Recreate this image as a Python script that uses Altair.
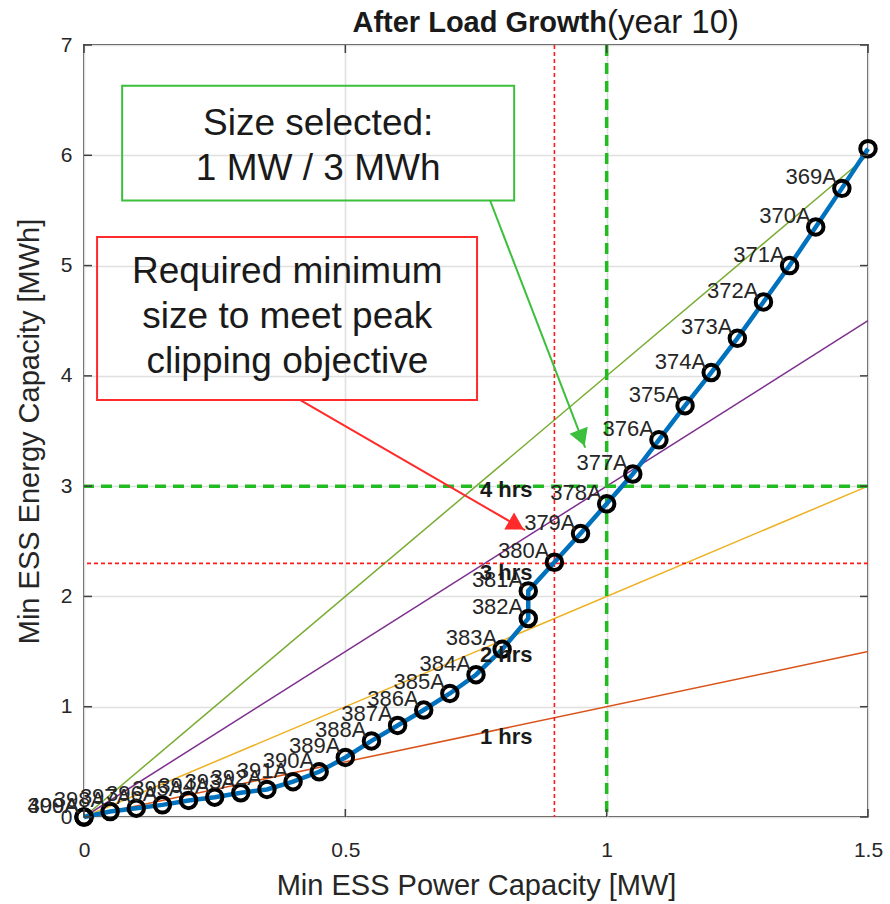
import math
import altair as alt
import pandas as pd

# ---------------- data ----------------
power = [1.50, 1.45, 1.40, 1.35, 1.30, 1.25, 1.20, 1.15, 1.10, 1.05, 1.00, 0.95, 0.90,
         0.85, 0.85, 0.80, 0.75, 0.70, 0.65, 0.60, 0.55, 0.50, 0.45, 0.40, 0.35, 0.30,
         0.25, 0.20, 0.15, 0.10, 0.05, 0.00, 0.00]
energy = [6.06, 5.70, 5.35, 5.00, 4.67, 4.34, 4.03, 3.73, 3.42, 3.11, 2.84, 2.57, 2.31,
          2.05, 1.80, 1.52, 1.29, 1.12, 0.97, 0.83, 0.69, 0.54, 0.41, 0.32, 0.25, 0.22,
          0.18, 0.15, 0.11, 0.08, 0.05, 0.00, 0.00]
point_labels = ["", "369A", "370A", "371A", "372A", "373A", "374A", "375A", "376A", "377A",
                "378A", "379A", "380A", "381A", "382A", "383A", "384A", "385A", "386A",
                "387A", "388A", "389A", "390A", "391A", "392A", "393A", "394A", "395A",
                "396A", "397A", "398A", "399A", "400A"]

hours = [1, 2, 3, 4]
hour_labels = ["1 hrs", "2 hrs", "3 hrs", "4 hrs"]
hour_colors = ["#D95319", "#EDB120", "#7E2F8E", "#77AC30"]
hour_label_x = [0.808, 0.808, 0.808, 0.808]
hour_label_y = [0.725, 1.47, 2.21, 2.965]

x_ticks = [0, 0.5, 1, 1.5]
y_ticks = [0, 1, 2, 3, 4, 5, 6, 7]

min_power, min_energy = 0.9, 2.3      # red dashed
sel_power, sel_energy = 1.0, 3.0      # green dashed

ann_texts = ["Size selected:\n1 MW / 3 MWh",
             "Required minimum\nsize to meet peak\nclipping objective"]
ann_box_x = [0.073, 0.025]
ann_box_x2 = [0.823, 0.752]
ann_box_y = [5.59, 3.78]
ann_box_y2 = [6.63, 5.26]
ann_text_x = [0.448, 0.389]
ann_text_y = [6.28, 4.94]          # first line
ann_colors = ["#3cbf3c", "#ff2a2a"]
arrow_x0 = [0.777, 0.414]
arrow_y0 = [5.59, 3.78]
arrow_x1 = [0.959, 0.844]
arrow_y1 = [3.35, 2.60]

title_bold = "After Load Growth"
title_rest = "(year 10)"

# ---------------- layout ----------------
W, H = 784, 772
XMAX, YMAX = 1.5, 7.0
FONT = "Liberation Sans"
TXT = "#262626"

xs = alt.Scale(domain=[0, XMAX], nice=False, zero=False)
ys = alt.Scale(domain=[0, YMAX], nice=False, zero=False)

axis_x = alt.Axis(values=x_ticks, format="~g", title="Min ESS Power Capacity [MW]",
                  grid=True, gridColor="#e0e0e0", gridWidth=1.6, domain=False, ticks=False,
                  labelFlush=False, labelFont=FONT, labelFontSize=21, labelColor=TXT,
                  labelPadding=22, titleFont=FONT, titleFontSize=29,
                  titleFontWeight="normal", titleColor=TXT, titlePadding=11)
axis_y = alt.Axis(values=y_ticks, format="~g", title="Min ESS Energy Capacity [MWh]",
                  grid=True, gridColor="#e0e0e0", gridWidth=1.6, domain=False, ticks=False,
                  labelFlush=False, labelFont=FONT, labelFontSize=21, labelColor=TXT,
                  labelPadding=12, titleFont=FONT, titleFontSize=29,
                  titleFontWeight="normal", titleColor=TXT, titlePadding=16)


def X(f):
    return alt.X(f, scale=xs, axis=axis_x)


def Y(f):
    return alt.Y(f, scale=ys, axis=axis_y)


pts = pd.DataFrame({"p": power, "e": energy, "lab": point_labels,
                    "idx": list(range(len(power)))})

hrs = pd.DataFrame({"h": hours, "label": hour_labels,
                    "x0": [0] * 4, "y0": [0] * 4,
                    "x1": [XMAX] * 4, "y1": [h * XMAX for h in hours],
                    "lx": hour_label_x, "ly": hour_label_y})

# arrow heads (angle computed in pixel space)
sx, sy = W / XMAX, H / YMAX
heads = []
for i in range(2):
    dxp = (arrow_x1[i] - arrow_x0[i]) * sx
    dyp = -(arrow_y1[i] - arrow_y0[i]) * sy
    n = math.hypot(dxp, dyp)
    ux, uy = dxp / n, dyp / n
    ang = math.degrees(math.atan2(ux, -uy)) % 360
    r = 10.0
    cx = arrow_x1[i] - ux * r / sx
    cy = arrow_y1[i] + uy * r / sy
    heads.append({"x": cx, "y": cy, "ang": ang, "c": ann_colors[i]})
heads_df = pd.DataFrame(heads)

ann = pd.DataFrame({"t": ann_texts, "bx": ann_box_x, "bx2": ann_box_x2,
                    "by": ann_box_y, "by2": ann_box_y2, "tx": ann_text_x,
                    "ty": ann_text_y, "c": ann_colors,
                    "ax0": arrow_x0, "ay0": arrow_y0, "ax1": arrow_x1, "ay1": arrow_y1})

# ---------------- layers ----------------
base = alt.Chart(pts)

hr_lines = alt.Chart(hrs).mark_rule(strokeWidth=1.5).encode(
    x=X("x0:Q"), y=Y("y0:Q"), x2="x1:Q", y2="y1:Q",
    color=alt.Color("label:N", scale=alt.Scale(domain=hour_labels, range=hour_colors),
                    legend=None))

hr_text = alt.Chart(hrs).mark_text(font=FONT, fontSize=22, fontWeight="bold",
                                   color="#1a1a1a", align="center",
                                   baseline="middle").encode(
    x=X("lx:Q"), y=Y("ly:Q"), text="label:N")

red_v = alt.Chart(pd.DataFrame({"v": [min_power]})).mark_rule(
    color="#ff1a1a", strokeWidth=1.6, strokeDash=[4, 3]).encode(x=X("v:Q"))
red_h = alt.Chart(pd.DataFrame({"v": [min_energy]})).mark_rule(
    color="#ff1a1a", strokeWidth=1.6, strokeDash=[4, 3]).encode(y=Y("v:Q"))
grn_v = alt.Chart(pd.DataFrame({"v": [sel_power]})).mark_rule(
    color="#22bb22", strokeWidth=3.5, strokeDash=[11, 7]).encode(x=X("v:Q"))
grn_h = alt.Chart(pd.DataFrame({"v": [sel_energy]})).mark_rule(
    color="#22bb22", strokeWidth=3.5, strokeDash=[11, 7]).encode(y=Y("v:Q"))

line = base.mark_line(color="#0072BD", strokeWidth=4.5).encode(
    x=X("p:Q"), y=Y("e:Q"), order="idx:Q")

circles = base.mark_point(shape="circle", size=240, filled=False, color="#000000",
                          strokeWidth=4, opacity=1).encode(x=X("p:Q"), y=Y("e:Q"))

labels = base.mark_text(font=FONT, fontSize=22, color=TXT, align="right",
                        baseline="middle", dx=-5, dy=-11).encode(
    x=X("p:Q"), y=Y("e:Q"), text="lab:N")

boxes = alt.Chart(ann).mark_rect(fill=None, strokeWidth=2).encode(
    x=X("bx:Q"), x2="bx2:Q", y=Y("by:Q"), y2="by2:Q",
    stroke=alt.Color("c:N", scale=None))

ann_txt = alt.Chart(ann).mark_text(font=FONT, fontSize=37, color="#1a1a1a",
                                   align="center", baseline="middle",
                                   lineBreak="\n", lineHeight=45).encode(
    x=X("tx:Q"), y=Y("ty:Q"), text="t:N")

arrows = alt.Chart(ann).mark_rule(strokeWidth=2).encode(
    x=X("ax0:Q"), y=Y("ay0:Q"), x2="ax1:Q", y2="ay1:Q",
    color=alt.Color("c:N", scale=None))

arrow_heads = alt.Chart(heads_df).mark_point(shape="triangle-up", filled=True, size=380,
                                             opacity=1, strokeWidth=0).encode(
    x=X("x:Q"), y=Y("y:Q"),
    angle=alt.Angle("ang:Q", scale=None), color=alt.Color("c:N", scale=None))

# inward ticks on all four sides
xt = pd.DataFrame({"v": x_ticks})
yt = pd.DataFrame({"v": y_ticks})
tick_bottom = alt.Chart(xt).mark_rule(color="#404040", strokeWidth=1.5).encode(
    x=X("v:Q"), y=alt.value(H), y2=alt.value(H - 8))
tick_top = alt.Chart(xt).mark_rule(color="#404040", strokeWidth=1.5).encode(
    x=X("v:Q"), y=alt.value(0), y2=alt.value(8))
tick_left = alt.Chart(yt).mark_rule(color="#404040", strokeWidth=1.5).encode(
    y=Y("v:Q"), x=alt.value(0), x2=alt.value(8))
tick_right = alt.Chart(yt).mark_rule(color="#404040", strokeWidth=1.5).encode(
    y=Y("v:Q"), x=alt.value(W), x2=alt.value(W - 8))

title_df = pd.DataFrame({"a": [title_bold], "b": [title_rest]})
title1 = alt.Chart(title_df).mark_text(font=FONT, fontSize=29, fontWeight="bold",
                                       color="#1a1a1a", align="right",
                                       baseline="middle").encode(
    x=alt.value(523), y=alt.value(-22), text="a:N")
title2 = alt.Chart(title_df).mark_text(font=FONT, fontSize=33, color="#1a1a1a",
                                       align="left", baseline="middle").encode(
    x=alt.value(523), y=alt.value(-22), text="b:N")

chart = alt.layer(
    hr_lines, red_v, red_h, grn_v, grn_h, line, circles, labels, hr_text,
    boxes, ann_txt, arrows, arrow_heads,
    tick_bottom, tick_top, tick_left, tick_right, title1, title2
).properties(
    width=W, height=H,
    autosize=alt.AutoSizeParams(type="none"),
    padding={"left": 84, "top": 45, "right": 22, "bottom": 87},
    background="white"
).configure_view(stroke="#4a4a4a", strokeWidth=2)

chart.save("out.html", embed_options={"renderer": "svg", "actions": False})
